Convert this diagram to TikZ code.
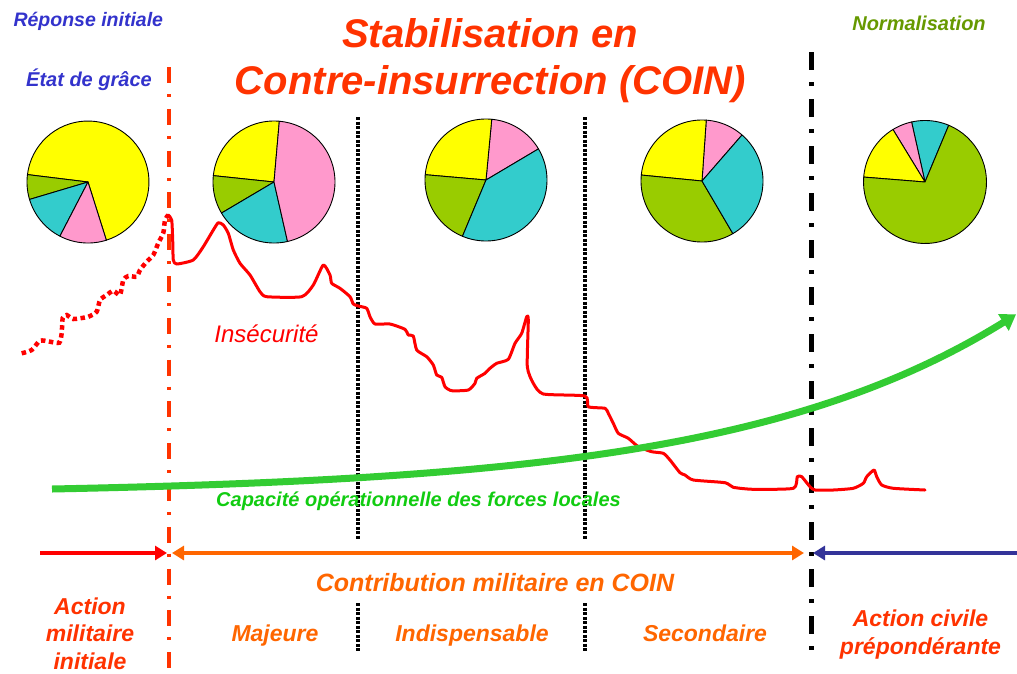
\documentclass[tikz,border=0pt]{standalone}
\usepackage{fontspec}
\setmainfont{Liberation Sans}
\usetikzlibrary{arrows.meta}
\definecolor{titleorange}{HTML}{FF3300}
\definecolor{phaseblue}{HTML}{3333CC}
\definecolor{normgreen}{HTML}{669900}
\definecolor{capgreen}{HTML}{11CC11}
\definecolor{arrowgreen}{HTML}{33CC33}
\definecolor{insred}{HTML}{FF0000}
\definecolor{coinorange}{HTML}{FF6600}
\definecolor{civblue}{HTML}{333399}
\definecolor{pieyellow}{HTML}{FFFF00}
\definecolor{piegreen}{HTML}{99CC00}
\definecolor{piecyan}{HTML}{33CCCC}
\definecolor{piepink}{HTML}{FF99CC}
\newcommand\pieslice[6]{%
  \filldraw[fill=#6, draw=black, line width=0.9pt, line join=round]
    (#1,#2) -- plot[domain=#4:#5, samples=50, variable=\t]
    ({#1+#3*cos(\t)},{#2-#3*sin(\t)}) -- cycle;}
\tikzset{
  bi/.style={inner sep=0pt, font=#1\bfseries\itshape},
  sep red/.style={draw=titleorange, line width=4pt, dash pattern=on 16pt off 11pt on 3pt off 11.8pt},
  sep dot/.style={draw=black, line width=3.5pt, dash pattern=on 3pt off 1.5pt},
  sep black/.style={draw=black, line width=5pt, dash pattern=on 18pt off 12pt on 4pt off 13pt},
  phase arrow/.style={line width=4pt, arrows={-Triangle[length=12pt,width=14pt]}},
}
\begin{document}
\begin{tikzpicture}[x=1pt,y=-1pt]
\useasboundingbox (0,0) rectangle (1017,673);
\fill[white] (0,0) rectangle (1017,673);

% ---- separators
\coordinate (r1) at (169,67);  \coordinate (r2) at (169,668);
\draw[sep red] (r1) -- (r2);
\coordinate (d1a) at (358,117); \coordinate (d1b) at (358,540);
\coordinate (d1c) at (358,603); \coordinate (d1d) at (358,652);
\coordinate (d2a) at (585,117); \coordinate (d2b) at (585,540);
\coordinate (d2c) at (585,603); \coordinate (d2d) at (585,652);
\draw[sep dot] (d1a) -- (d1b);
\draw[sep dot] (d1c) -- (d1d);
\draw[sep dot] (d2a) -- (d2b);
\draw[sep dot] (d2c) -- (d2d);
\coordinate (b1) at (811,52); \coordinate (b2) at (811,652);
\draw[sep black] (b1) -- (b2);

% ---- pies
\pieslice{88}{182}{61}{-72.5}{173}{pieyellow}
\pieslice{88}{182}{61}{173}{196.6}{piegreen}
\pieslice{88}{182}{61}{196.6}{242.6}{piecyan}
\pieslice{88}{182}{61}{242.6}{287.5}{piepink}

\pieslice{274}{182}{61}{85}{174}{pieyellow}
\pieslice{274}{182}{61}{174}{210.6}{piegreen}
\pieslice{274}{182}{61}{210.6}{282.8}{piecyan}
\pieslice{274}{182}{61}{282.8}{445}{piepink}

\pieslice{486}{180}{61}{30.7}{84.6}{piepink}
\pieslice{486}{180}{61}{84.6}{175}{pieyellow}
\pieslice{486}{180}{61}{175}{247.3}{piegreen}
\pieslice{486}{180}{61}{247.3}{390.7}{piecyan}

\pieslice{702}{181}{61}{49}{86}{piepink}
\pieslice{702}{181}{61}{86}{174.4}{pieyellow}
\pieslice{702}{181}{61}{174.4}{300.4}{piegreen}
\pieslice{702}{181}{61}{300.4}{409}{piecyan}

\pieslice{925}{182}{61.5}{67.3}{102.6}{piecyan}
\pieslice{925}{182}{61.5}{102.6}{121.4}{piepink}
\pieslice{925}{182}{61.5}{121.4}{175.4}{pieyellow}
\pieslice{925}{182}{61.5}{175.4}{427.3}{piegreen}

% ---- insecurity curve
\draw[insred, line width=4.5pt, dash pattern=on 4.5pt off 3.5pt]
  plot[smooth, tension=0.4] coordinates {
  (21.7,353.3) (31.7,350) (40,340.7) (50,341.7) (59.3,342.7) (61.7,333) (62.7,318)
  (66.7,315) (73.3,319) (88.3,316.7) (96.7,311.7) (100,300) (106.7,295) (113.3,290.7)
  (120,295) (123.3,280) (128.3,276) (136.7,276.7) (140,270) (146.7,261.7) (153.3,255)
  (158.3,243) (163.3,233) (165,220) (168.3,215)};
\draw[insred, line width=3pt, line join=round, line cap=round]
  plot[smooth, tension=0.35] coordinates {
  (168.3,215) (171.7,220) (172.7,240) (173.3,260) (176.7,264) (193.3,260) (203.3,246.7)
  (213.3,230) (218.3,222.7) (223.3,225) (228.3,233.3) (233.3,250) (240,263.3) (250,275)
  (260,291.7) (266.7,296.7) (301.7,296.7) (313.3,285) (323.3,265) (330,275) (331.7,283.3)
  (340,288.3) (350,296.7) (353.3,304) (358.3,306) (366.7,308.3) (370,316.7) (375,324)
  (390,324) (405,329.3) (408.3,335) (413.3,336) (416.7,350) (426.7,356.7) (433.3,365)
  (436.7,375) (441.7,377.3) (445,386.7) (451.7,390.7) (468.3,390) (475,383.3) (476.7,378.3)
  (485,373.3) (490,368.3) (496.7,363.3) (508.3,359.3) (515,343.3) (521.7,333.3)
  (526.7,316.7) (528.3,320) (527.3,366.7) (533.3,383.3) (543.3,394) (585,396) (588.3,406.7)
  (605,408.3) (608.3,413.3) (613.3,423.3) (618.3,433.3) (628.3,438.3) (638.3,446.7)
  (651.7,451.7) (663.3,453.3) (670,460) (680,472.7) (685,475) (693.3,480) (725,482.7)
  (733.3,487.3) (753.3,489.3) (793.3,488.3) (797.3,476.7) (801.7,476.7) (810,486.7)
  (815,490) (833.3,490) (853.3,488.3) (863.3,483.3) (866.7,476.7) (874,470) (876.7,476.7)
  (881.7,485) (893.3,488.3) (925,490)};

% ---- capacity arrow
\draw[arrowgreen, line width=7pt, arrows={-Triangle[length=15pt,width=19pt]}]
  plot[domain=52:1016, samples=120, variable=\u]
  (\u, {489 - 5.6*(exp(0.0036*(\u-52))-1)});

% ---- phase arrows
\coordinate (a1s) at (40,553);   \coordinate (a1e) at (167,553);
\coordinate (a2s) at (172,553);  \coordinate (a2e) at (804,553);
\coordinate (a3s) at (1017,553); \coordinate (a3e) at (813,553);
\draw[phase arrow, insred] (a1s) -- (a1e);
\draw[phase arrow, coinorange, arrows={Triangle[length=12pt,width=14pt]-Triangle[length=12pt,width=14pt]}] (a2s) -- (a2e);
\draw[phase arrow, civblue] (a3s) -- (a3e);

% ---- texts
\node[bi={\fontsize{40}{48}\selectfont}, text=titleorange, anchor=base] (tit1) at (490,47) {Stabilisation en};
\node[bi={\fontsize{40}{48}\selectfont}, text=titleorange, anchor=base] (tit2) at (490.5,94) {Contre-insurrection (COIN)};
\node[bi={\fontsize{19.5}{23}\selectfont}, text=phaseblue, anchor=base] (rep) at (88.3,26.5) {Réponse initiale};
\node[bi={\fontsize{20}{24}\selectfont}, text=phaseblue, anchor=base] (etat) at (89,86) {État de grâce};
\node[bi={\fontsize{20}{24}\selectfont}, text=normgreen, anchor=base] (norm) at (919,30.5) {Normalisation};
\node[inner sep=0pt, font=\fontsize{24}{28}\selectfont\itshape, text=insred, anchor=base] (ins) at (266.5,342.5) {Insécurité};
\node[bi={\fontsize{20}{24}\selectfont}, text=capgreen, anchor=base] (cap) at (418.5,506.5) {Capacité opérationnelle des forces locales};
\node[bi={\fontsize{25}{30}\selectfont}, text=coinorange, anchor=base] (contr) at (495,591.5) {Contribution militaire en COIN};
\node[bi={\fontsize{23}{28}\selectfont}, text=coinorange, anchor=base] (maj) at (275,641.5) {Majeure};
\node[bi={\fontsize{23}{28}\selectfont}, text=coinorange, anchor=base] (ind) at (472,641.5) {Indispensable};
\node[bi={\fontsize{23}{28}\selectfont}, text=coinorange, anchor=base] (sec) at (705,641.5) {Secondaire};
\node[bi={\fontsize{23}{27.5}\selectfont}, text=titleorange, align=center] (ami) at (90,633.5) {Action\\militaire\\initiale};
\node[bi={\fontsize{23}{28}\selectfont}, text=titleorange, align=center] (acp) at (920.5,634.5) {Action civile\\prépondérante};
\end{tikzpicture}
\end{document}
